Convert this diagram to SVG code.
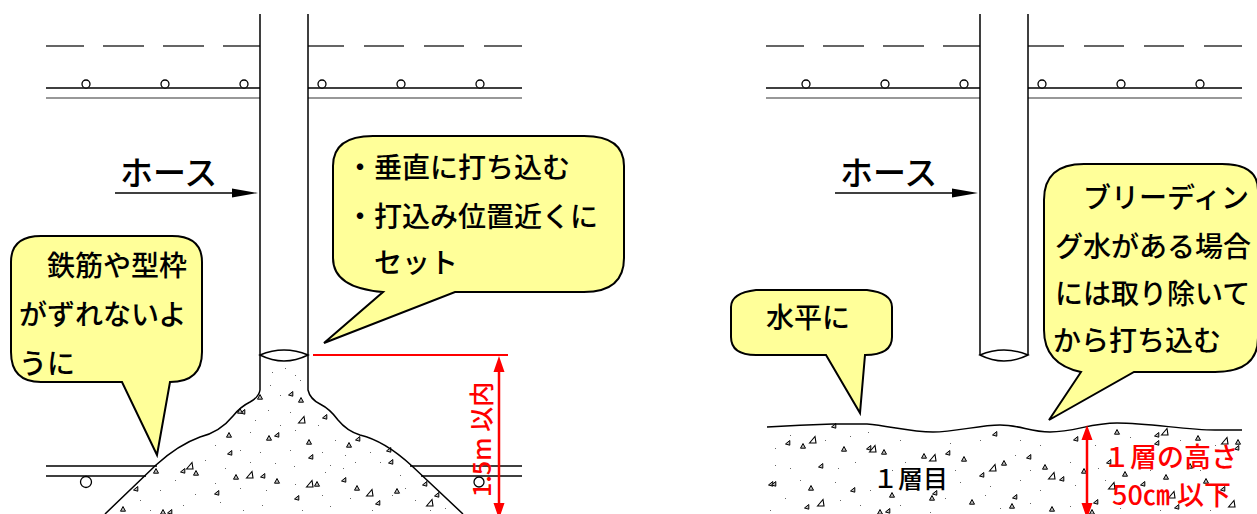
<svg xmlns="http://www.w3.org/2000/svg" width="1257" height="514" viewBox="0 0 1257 514">
<style>
text{font-family:"Noto Sans CJK JP","Noto Sans",sans-serif;fill:#000;font-weight:500}
.c{font-size:28px}
.r{fill:#f00;font-size:27px}
.h{font-size:33px}
.k{fill:none;stroke:#000;stroke-width:1.5}
.d{fill:none;stroke:#333;stroke-width:1.5}
.g{fill:none;stroke:#777;stroke-width:1.3}
.o{fill:#fff;stroke:#000;stroke-width:1.3}
.b{fill:#ffff99;stroke:#000;stroke-width:2;stroke-linejoin:miter}
.rl{fill:none;stroke:#f00;stroke-width:2.5}
.rf{fill:#f00}
.s{fill:#666}
</style>
<defs>
<path id="t" d="M-2.5 1L1.8-2.5V2.2z" fill="#bbb" stroke="#000" stroke-width="1"/>
<path id="u" d="M-2.5 2.2L0-2.5L2.5 2.2z" fill="#bbb" stroke="#000" stroke-width="1"/>
<path id="v" d="M-3.5 3L2-3.5L3 3z" fill="#fff" stroke="#000" stroke-width="1.1"/>
<g id="frame">
<path class="d" d="M46 46H84M103 46H144M163 46H204M223 46H260M308 46H344M364 46H404M424 46H464M484 46H522"/>
<path class="k" d="M46 88H260M308 88H522"/>
<path class="g" d="M46 98H260M308 98H522"/>
<circle class="o" cx="86" cy="84" r="4"/><circle class="o" cx="165" cy="84" r="4"/><circle class="o" cx="244" cy="84" r="4"/>
<circle class="o" cx="322" cy="84" r="4"/><circle class="o" cx="401" cy="84" r="4"/><circle class="o" cx="480" cy="84" r="4"/>
<path class="k" d="M115 193H232"/>
<path d="M232 188.500L258 193L232 197.500z" fill="#000"/>
<text class="h" x="120" y="185">ホース</text>
</g>
</defs>

<g id="left-scene">
<use href="#frame"/>
<path id="left-lower-bars" class="k" d="M46 466H157M46 476H146M410 466H522M421 476H522"/>
<circle class="o" cx="86" cy="482" r="5.500"/><circle class="o" cx="479" cy="482" r="5"/>
<path id="left-stipple" class="s" d="M272 372h1v1h-1zM285 368h1v1h-1zM295 375h1v1h-1zM270 385h1v1h-1zM300 380h1v1h-1zM280 395h1v1h-1zM268 410h1v1h-1zM290 412h1v1h-1zM255 420h1v1h-1zM280 425h1v1h-1zM318 425h1v1h-1zM295 430h1v1h-1zM250 432h1v1h-1zM335 440h1v1h-1zM215 445h1v1h-1zM240 450h1v1h-1zM260 452h1v1h-1zM290 450h1v1h-1zM322 452h1v1h-1zM345 455h1v1h-1zM370 452h1v1h-1zM380 462h1v1h-1zM205 460h1v1h-1zM225 468h1v1h-1zM250 462h1v1h-1zM275 463h1v1h-1zM294 466h1v1h-1zM330 465h1v1h-1zM355 462h1v1h-1zM400 475h1v1h-1zM175 480h1v1h-1zM215 483h1v1h-1zM295 484h1v1h-1zM325 472h1v1h-1zM343 468h1v1h-1zM405 488h1v1h-1zM160 490h1v1h-1zM195 494h1v1h-1zM240 488h1v1h-1zM266 490h1v1h-1zM322 495h1v1h-1zM350 498h1v1h-1zM392 495h1v1h-1zM415 500h1v1h-1zM140 500h1v1h-1zM183 505h1v1h-1zM220 502h1v1h-1zM262 505h1v1h-1zM302 510h1v1h-1zM330 506h1v1h-1zM372 510h1v1h-1zM430 510h1v1h-1zM445 508h1v1h-1zM150 510h1v1h-1zM243 510h1v1h-1z"/>
<g id="left-aggregate">
<use href="#u" x="260" y="397"/><use href="#t" x="243" y="412"/><use href="#u" x="240" y="411"/><use href="#t" x="291" y="394"/><use href="#u" x="301" y="400"/><use href="#v" x="302" y="420"/><use href="#t" x="325" y="417"/>
<use href="#u" x="229" y="435"/><use href="#u" x="269" y="438"/><use href="#t" x="277" y="435"/><use href="#t" x="230" y="453"/><use href="#v" x="190" y="466"/><use href="#t" x="183" y="471"/><use href="#u" x="196" y="473"/><use href="#u" x="236" y="477"/><use href="#v" x="250" y="475"/><use href="#t" x="263" y="476"/><use href="#u" x="277" y="481"/><use href="#t" x="217" y="493"/><use href="#t" x="297" y="498"/><use href="#u" x="156" y="471"/><use href="#t" x="136" y="489"/><use href="#u" x="123" y="509"/><use href="#u" x="163" y="512"/><use href="#t" x="170" y="512"/>
<use href="#u" x="309" y="442"/><use href="#u" x="349" y="445"/><use href="#t" x="358" y="439"/><use href="#t" x="389" y="450"/><use href="#t" x="391" y="462"/><use href="#t" x="311" y="457"/><use href="#v" x="310" y="484"/><use href="#u" x="317" y="484"/><use href="#t" x="344" y="480"/><use href="#u" x="357" y="488"/><use href="#v" x="370" y="493"/><use href="#u" x="397" y="491"/><use href="#t" x="378" y="503"/><use href="#t" x="425" y="484"/><use href="#t" x="437" y="495"/><use href="#v" x="430" y="503"/>
</g>
<path id="left-pile" class="k" d="M260 355V390Q259 397 250 402Q240 407 233 416Q220 432 200 437Q178 445 156 465L105 514"/>
<path id="left-pile-right" class="k" d="M308 355V390Q310 399 320 404Q330 409 338 420Q347 431 360 435Q385 441 412 466L463 514"/>
<path id="left-hose" class="k" d="M260 14V355M308 14V355"/>
<path id="left-lens" class="k" d="M260 355Q284 345 308 355Q284 367 260 355z"/>
<path id="left-dim-line" class="rl" d="M313 355H508" style="stroke-width:2"/>
<path class="rl" d="M499 368V506"/>
<path class="rf" d="M499 356L504.500 372H493.500zM499 519L504.500 503H493.500z"/>
<text class="r" transform="translate(491 497) rotate(-90)" style="font-size:25px">1.5m 以内</text>
<g id="callout-left">
<path class="b" d="M41 236H172Q202 236 202 262V352Q202 382 170 382L157 455L122 382H41Q11 382 11 352V262Q11 236 41 236z"/>
<text class="c" x="47" y="276">鉄筋や型枠</text><text class="c" x="19" y="325">がずれないよ</text><text class="c" x="19" y="374">うに</text>
</g>
<g id="callout-center">
<path class="b" d="M373 136H584Q624 136 624 166V258Q624 292 584 292H455L324 343L383 292Q333 288 333 258V166Q333 136 373 136z"/>
<text class="c" x="346" y="178">・垂直に打ち込む</text><text class="c" x="346" y="227">・打込み位置近くに</text><text class="c" x="374" y="273">セット</text>
</g>
</g>

<g id="right-scene">
<use href="#frame" x="720"/>
<path id="right-stipple" class="s" d="M790 435h1v1h-1zM775 448h1v1h-1zM825 440h1v1h-1zM850 436h1v1h-1zM868 432h1v1h-1zM900 440h1v1h-1zM950 443h1v1h-1zM980 440h1v1h-1zM1020 440h1v1h-1zM1040 445h1v1h-1zM1095 445h1v1h-1zM1130 437h1v1h-1zM1180 440h1v1h-1zM1215 445h1v1h-1zM775 465h1v1h-1zM790 468h1v1h-1zM838 468h1v1h-1zM855 462h1v1h-1zM892 470h1v1h-1zM905 462h1v1h-1zM955 470h1v1h-1zM1015 455h1v1h-1zM1030 470h1v1h-1zM1070 462h1v1h-1zM1098 468h1v1h-1zM800 480h1v1h-1zM835 482h1v1h-1zM870 490h1v1h-1zM960 482h1v1h-1zM990 486h1v1h-1zM1020 480h1v1h-1zM1040 490h1v1h-1zM1075 485h1v1h-1zM1105 480h1v1h-1zM1150 470h1v1h-1zM1200 470h1v1h-1zM785 498h1v1h-1zM840 500h1v1h-1zM860 505h1v1h-1zM900 505h1v1h-1zM945 498h1v1h-1zM985 495h1v1h-1zM1000 508h1v1h-1zM1030 503h1v1h-1zM1070 506h1v1h-1zM1120 508h1v1h-1zM1160 510h1v1h-1zM1210 510h1v1h-1zM770 510h1v1h-1zM930 512h1v1h-1z"/>
<g id="right-aggregate">
<use href="#t" x="788" y="443"/><use href="#u" x="803" y="446"/><use href="#v" x="813" y="440"/><use href="#t" x="834" y="426"/><use href="#u" x="844" y="449"/><use href="#t" x="869" y="448"/><use href="#v" x="873" y="449"/><use href="#u" x="884" y="452"/><use href="#u" x="924" y="456"/><use href="#v" x="933" y="458"/><use href="#t" x="948" y="453"/><use href="#u" x="964" y="459"/><use href="#t" x="995" y="434"/><use href="#u" x="1004" y="463"/><use href="#v" x="993" y="468"/><use href="#t" x="982" y="475"/><use href="#t" x="821" y="466"/><use href="#t" x="771" y="484"/><use href="#t" x="774" y="484"/><use href="#u" x="811" y="488"/><use href="#t" x="853" y="490"/><use href="#u" x="892" y="495"/><use href="#t" x="935" y="493"/><use href="#u" x="932" y="498"/><use href="#u" x="972" y="502"/><use href="#t" x="1015" y="497"/><use href="#u" x="1012" y="506"/><use href="#v" x="821" y="503"/><use href="#t" x="807" y="507"/><use href="#u" x="880" y="512"/><use href="#t" x="888" y="511"/>
<use href="#t" x="1076" y="439"/><use href="#u" x="1117" y="432"/><use href="#t" x="1157" y="435"/><use href="#v" x="1165" y="432"/><use href="#t" x="1157" y="443"/><use href="#u" x="1198" y="438"/><use href="#v" x="1225" y="441"/><use href="#u" x="1238" y="442"/><use href="#t" x="1237" y="448"/><use href="#t" x="1029" y="457"/><use href="#u" x="1045" y="467"/><use href="#v" x="1052" y="476"/><use href="#t" x="1062" y="479"/><use href="#u" x="1084" y="471"/><use href="#t" x="1109" y="462"/><use href="#u" x="1125" y="474"/><use href="#u" x="1190" y="466"/><use href="#u" x="1166" y="477"/><use href="#v" x="1112" y="486"/><use href="#t" x="1143" y="484"/><use href="#u" x="1206" y="481"/><use href="#t" x="1223" y="489"/><use href="#v" x="1172" y="495"/><use href="#t" x="1096" y="502"/><use href="#u" x="1052" y="509"/><use href="#u" x="1092" y="512"/><use href="#t" x="1177" y="507"/><use href="#v" x="1232" y="504"/>
</g>
<path id="right-hose" class="k" d="M980 14V355M1028 14V355"/>
<path id="right-lens" class="k" d="M980 355Q1004 345 1028 355Q1004 367 980 355z"/>
<path id="right-ground" class="k" d="M767 427Q800 425 833 424H867C890 426 910 432 933 432C955 432 980 425 1000 425C1020 425 1030 432 1050 432C1075 432 1090 423 1117 423C1150 423 1185 430 1215 430H1242"/>
<path id="right-dim-line" class="rl" d="M1087 436V506"/>
<path class="rf" d="M1087 425L1092.500 440H1081.500zM1087 519L1092.500 503H1081.500z"/>
<text class="c" x="873" y="488" style="font-size:25px">１層目</text>
<text class="r" x="1103" y="467">１層の高さ</text>
<text class="r" x="1112" y="505">50㎝<tspan x="1177">以下</tspan></text>
<g id="callout-level">
<path class="b" d="M756 290H867Q892 293 892 307V337Q892 355 865 355L860 413L826 355H756Q731 355 731 337V307Q731 293 756 290z"/>
<text class="c" x="766" y="328">水平に</text>
</g>
<g id="callout-bleeding">
<path class="b" d="M1084 164H1222Q1258 164 1258 190V338Q1258 372 1215 372H1134L1049 420L1081 372Q1044 364 1044 330V200Q1044 164 1084 164z"/>
<text class="c" x="1083" y="208">ブリーディン</text><text class="c" x="1055" y="257">グ水がある場合</text><text class="c" x="1055" y="304">には取り除いて</text><text class="c" x="1053" y="351">から打ち込む</text>
</g>
</g>
</svg>
